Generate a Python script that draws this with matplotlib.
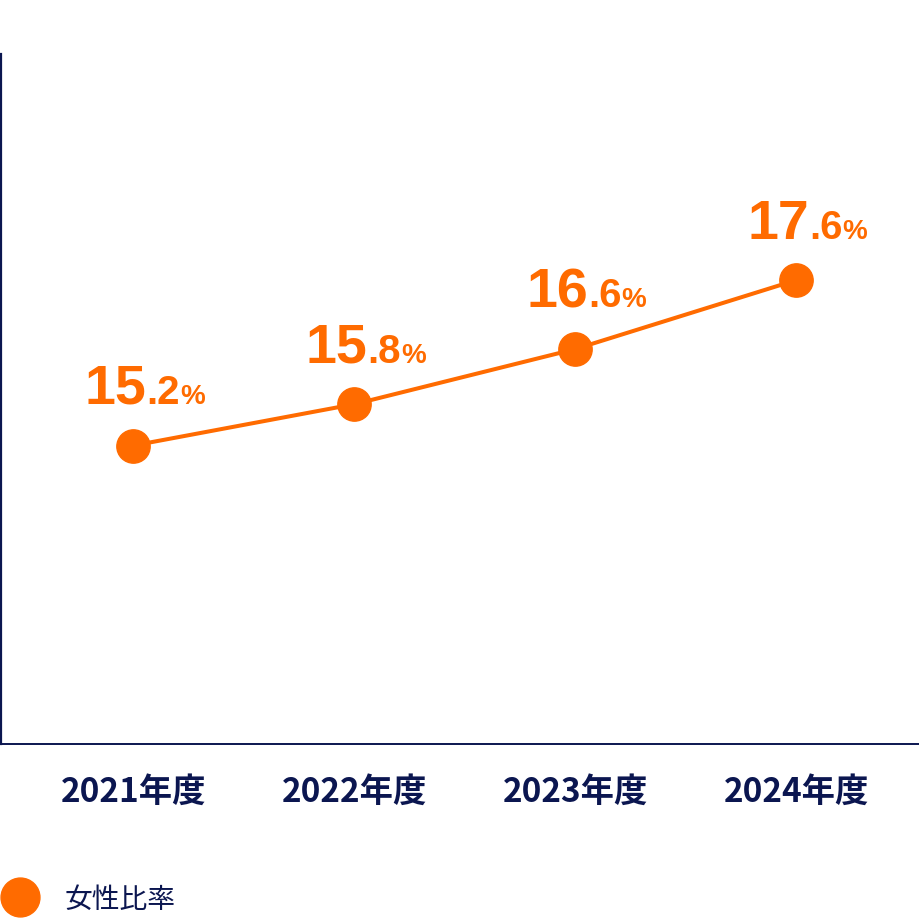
import matplotlib
matplotlib.use("Agg")
import matplotlib.pyplot as plt
from matplotlib.lines import Line2D
from matplotlib.offsetbox import TextArea, HPacker, AnnotationBbox

plt.rcParams['font.family'] = ['Noto Sans CJK JP', 'DejaVu Sans']

# data
years = ["2021年度", "2022年度", "2023年度", "2024年度"]
ratio = [15.2, 15.8, 16.6, 17.6]
series_name = "女性比率"

orange = "#FF6B00"
navy = "#0B1650"

fig = plt.figure(figsize=(9.2, 9.2), dpi=100)
ax = fig.add_axes([0.001, 1 - 745 / 920, 0.999, 690 / 920])

x = list(range(len(years)))
ax.plot(x, ratio, color=orange, lw=2.9, marker="o", markersize=24,
        solid_capstyle="round", zorder=3, clip_on=False)

ax.set_xlim(-0.6, 3.56)
ax.set_ylim(10.87, 20.88)

for s in ["top", "right"]:
    ax.spines[s].set_visible(False)
ax.spines["left"].set_color(navy)
ax.spines["left"].set_linewidth(1.6)
ax.spines["bottom"].set_color(navy)
ax.spines["bottom"].set_linewidth(1.4)

ax.set_yticks([])
ax.set_xticks(x)
ax.set_xticklabels(years, fontsize=24, fontweight="bold", color=navy)
ax.tick_params(axis="x", length=0, pad=22)

# value labels: big integer part, smaller decimal, small percent sign
num_font = "Liberation Sans"
for xi, v in zip(x, ratio):
    whole, dec = f"{v:.1f}".split(".")
    parts = [
        TextArea(whole, textprops=dict(fontsize=40, fontweight="bold", color=orange, family=num_font)),
        TextArea("." + dec, textprops=dict(fontsize=29, fontweight="bold", color=orange, family=num_font)),
        TextArea("%", textprops=dict(fontsize=20, fontweight="bold", color=orange, family=num_font)),
    ]
    box = HPacker(children=parts, align="baseline", pad=0, sep=0)
    ab = AnnotationBbox(box, (xi, v), xybox=(8, 22), boxcoords="offset points",
                        box_alignment=(0.5, 0), frameon=False, pad=0,
                        annotation_clip=False)
    ax.add_artist(ab)

handle = Line2D([], [], color=orange, marker="o", ls="none", markersize=28)
fig.legend([handle], [series_name], loc="center left",
           bbox_to_anchor=(-0.008, 1 - 900 / 920), frameon=False,
           prop=dict(size=20), labelcolor=navy, handletextpad=0.6,
           borderaxespad=0, borderpad=0)

fig.savefig("out.png", dpi=100, facecolor="white")
